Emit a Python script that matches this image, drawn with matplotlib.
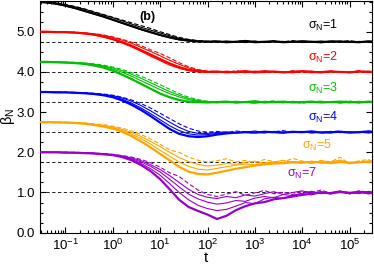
import numpy as np
import matplotlib
matplotlib.use("Agg")
import matplotlib.pyplot as plt
from matplotlib.ticker import MultipleLocator, FixedLocator, NullFormatter, LogFormatterMathtext

plt.rcParams['font.family'] = ['Liberation Sans', 'DejaVu Sans']
plt.rcParams['mathtext.fontset'] = 'custom'
plt.rcParams['mathtext.rm'] = 'Liberation Sans'
plt.rcParams['mathtext.it'] = 'Liberation Sans:italic'

# time grid: log10(t) from -1.6 to 5.6 in steps of 0.2
log_t = np.arange(-1.6, 5.61, 0.2)

sigma_labels = ["1", "2", "3", "4", "5", "7"]
colors = ["#000000", "#ff0000", "#00c000", "#0000ff", "#ffa500", "#9a00d0"]
plateaus = [4.75, 4.0, 3.25, 2.5, 1.75, 1.0]

# sigma_N = 1
beta_s1 = [
    [5.75, 5.73, 5.70, 5.65, 5.59, 5.52, 5.45, 5.38, 5.30, 5.22, 5.14, 5.06, 4.99, 4.92, 4.86, 4.81, 4.78, 4.76, 4.75,
     4.76, 4.74, 4.75, 4.77, 4.74, 4.75, 4.76, 4.74, 4.75, 4.76, 4.75, 4.74, 4.76, 4.75, 4.75, 4.74, 4.76, 4.75],
    [5.75, 5.74, 5.71, 5.67, 5.62, 5.56, 5.49, 5.42, 5.35, 5.27, 5.19, 5.11, 5.04, 4.97, 4.90, 4.84, 4.80, 4.77, 4.76,
     4.74, 4.77, 4.75, 4.73, 4.76, 4.75, 4.77, 4.74, 4.76, 4.73, 4.75, 4.77, 4.74, 4.76, 4.73, 4.76, 4.74, 4.75],
    [5.74, 5.72, 5.69, 5.64, 5.58, 5.51, 5.44, 5.37, 5.29, 5.21, 5.13, 5.05, 4.98, 4.91, 4.85, 4.80, 4.77, 4.75, 4.76,
     4.75, 4.76, 4.74, 4.75, 4.77, 4.73, 4.75, 4.76, 4.74, 4.77, 4.75, 4.73, 4.75, 4.77, 4.74, 4.75, 4.76, 4.74],
    [5.75, 5.74, 5.72, 5.68, 5.63, 5.57, 5.50, 5.43, 5.36, 5.29, 5.22, 5.15, 5.08, 5.00, 4.93, 4.86, 4.81, 4.78, 4.76,
     4.77, 4.74, 4.76, 4.78, 4.75, 4.73, 4.77, 4.75, 4.78, 4.74, 4.76, 4.73, 4.77, 4.75, 4.78, 4.74, 4.76, 4.75],
]

# sigma_N = 2
beta_s2 = [
    [5.00, 5.00, 4.99, 4.99, 4.98, 4.96, 4.93, 4.88, 4.82, 4.74, 4.65, 4.54, 4.43, 4.32, 4.21, 4.12, 4.05, 4.02, 4.00,
     4.01, 3.99, 4.00, 4.02, 3.99, 4.00, 4.01, 3.99, 4.00, 4.02, 4.00, 3.99, 4.01, 4.00, 3.99, 4.01, 4.00, 3.99],
    [5.00, 5.00, 5.00, 4.99, 4.98, 4.97, 4.95, 4.91, 4.86, 4.79, 4.71, 4.61, 4.51, 4.40, 4.29, 4.19, 4.10, 4.04, 4.01,
     3.99, 4.02, 4.00, 3.98, 4.01, 4.03, 4.00, 3.99, 4.02, 4.00, 3.98, 4.01, 4.02, 3.99, 4.00, 4.02, 3.99, 4.01],
    [5.00, 5.00, 4.99, 4.98, 4.97, 4.95, 4.92, 4.87, 4.80, 4.72, 4.62, 4.51, 4.39, 4.28, 4.17, 4.09, 4.03, 4.00, 3.99,
     4.00, 4.01, 3.98, 4.00, 4.02, 3.99, 4.01, 4.00, 3.98, 4.01, 4.02, 3.99, 4.00, 4.01, 3.98, 4.00, 4.02, 4.00],
    [5.00, 5.00, 5.00, 4.99, 4.99, 4.97, 4.95, 4.92, 4.87, 4.81, 4.74, 4.65, 4.55, 4.46, 4.35, 4.23, 4.13, 4.06, 4.02,
     4.01, 3.99, 4.03, 4.00, 3.98, 4.02, 4.01, 3.99, 4.03, 4.00, 4.01, 3.98, 4.02, 4.00, 3.99, 4.03, 4.00, 4.01],
]

# sigma_N = 3
beta_s3 = [
    [4.25, 4.25, 4.24, 4.23, 4.22, 4.20, 4.16, 4.11, 4.03, 3.93, 3.82, 3.70, 3.58, 3.46, 3.37, 3.30, 3.26, 3.25, 3.24,
     3.25, 3.26, 3.24, 3.25, 3.27, 3.24, 3.25, 3.26, 3.24, 3.25, 3.26, 3.24, 3.25, 3.26, 3.25, 3.24, 3.26, 3.25],
    [4.25, 4.25, 4.24, 4.24, 4.23, 4.21, 4.18, 4.14, 4.07, 3.99, 3.89, 3.78, 3.67, 3.56, 3.46, 3.38, 3.31, 3.27, 3.25,
     3.24, 3.26, 3.23, 3.25, 3.24, 3.27, 3.25, 3.23, 3.26, 3.24, 3.25, 3.27, 3.24, 3.25, 3.23, 3.26, 3.25, 3.24],
    [4.25, 4.25, 4.25, 4.24, 4.23, 4.22, 4.19, 4.15, 4.10, 4.03, 3.94, 3.84, 3.73, 3.62, 3.51, 3.42, 3.34, 3.29, 3.26,
     3.23, 3.25, 3.27, 3.24, 3.22, 3.25, 3.26, 3.24, 3.27, 3.23, 3.25, 3.24, 3.26, 3.22, 3.25, 3.27, 3.24, 3.23],
    [4.25, 4.25, 4.25, 4.24, 4.24, 4.22, 4.20, 4.17, 4.12, 4.06, 3.98, 3.89, 3.79, 3.68, 3.57, 3.46, 3.37, 3.31, 3.27,
     3.26, 3.24, 3.27, 3.25, 3.23, 3.26, 3.28, 3.24, 3.25, 3.22, 3.26, 3.27, 3.24, 3.25, 3.28, 3.23, 3.25, 3.26],
]

# sigma_N = 4
beta_s4 = [
    [3.50, 3.50, 3.49, 3.49, 3.48, 3.47, 3.45, 3.42, 3.37, 3.29, 3.18, 3.05, 2.90, 2.74, 2.58, 2.46, 2.40, 2.38, 2.40,
     2.44, 2.47, 2.49, 2.50, 2.49, 2.51, 2.50, 2.49, 2.51, 2.50, 2.52, 2.49, 2.50, 2.51, 2.49, 2.50, 2.52, 2.50],
    [3.50, 3.50, 3.49, 3.49, 3.48, 3.47, 3.45, 3.43, 3.39, 3.32, 3.22, 3.10, 2.96, 2.81, 2.66, 2.54, 2.46, 2.43, 2.44,
     2.47, 2.49, 2.48, 2.51, 2.50, 2.48, 2.52, 2.50, 2.49, 2.51, 2.48, 2.50, 2.52, 2.49, 2.51, 2.50, 2.48, 2.51],
    [3.50, 3.50, 3.50, 3.49, 3.49, 3.48, 3.46, 3.44, 3.41, 3.35, 3.27, 3.16, 3.03, 2.89, 2.75, 2.62, 2.52, 2.47, 2.47,
     2.49, 2.51, 2.48, 2.50, 2.53, 2.49, 2.50, 2.48, 2.51, 2.52, 2.49, 2.50, 2.48, 2.52, 2.50, 2.49, 2.51, 2.50],
    [3.50, 3.50, 3.50, 3.50, 3.49, 3.48, 3.47, 3.45, 3.42, 3.37, 3.30, 3.21, 3.10, 2.97, 2.84, 2.71, 2.60, 2.53, 2.50,
     2.52, 2.49, 2.53, 2.50, 2.48, 2.52, 2.51, 2.54, 2.49, 2.50, 2.52, 2.48, 2.51, 2.53, 2.49, 2.50, 2.52, 2.49],
]

# sigma_N = 5
beta_s5 = [
    [2.75, 2.75, 2.74, 2.74, 2.73, 2.71, 2.68, 2.64, 2.59, 2.51, 2.40, 2.27, 2.12, 1.96, 1.80, 1.64, 1.52, 1.46, 1.45,
     1.49, 1.54, 1.59, 1.63, 1.67, 1.70, 1.72, 1.73, 1.75, 1.74, 1.76, 1.75, 1.73, 1.76, 1.74, 1.75, 1.77, 1.74],
    [2.75, 2.75, 2.75, 2.74, 2.73, 2.72, 2.69, 2.66, 2.61, 2.54, 2.45, 2.34, 2.20, 2.05, 1.90, 1.76, 1.65, 1.58, 1.56,
     1.60, 1.64, 1.68, 1.71, 1.69, 1.73, 1.76, 1.72, 1.77, 1.74, 1.78, 1.73, 1.76, 1.79, 1.72, 1.75, 1.78, 1.73],
    [2.75, 2.75, 2.75, 2.74, 2.74, 2.72, 2.70, 2.67, 2.63, 2.57, 2.49, 2.39, 2.27, 2.14, 2.00, 1.87, 1.77, 1.70, 1.66,
     1.68, 1.72, 1.70, 1.75, 1.78, 1.73, 1.76, 1.80, 1.74, 1.77, 1.72, 1.79, 1.75, 1.81, 1.73, 1.77, 1.74, 1.76],
    [2.75, 2.75, 2.75, 2.75, 2.74, 2.73, 2.71, 2.69, 2.65, 2.60, 2.53, 2.44, 2.33, 2.20, 2.06, 2.00, 1.88, 1.80, 1.76,
     1.79, 1.84, 1.76, 1.80, 1.74, 1.82, 1.77, 1.75, 1.85, 1.78, 1.73, 1.80, 1.76, 1.88, 1.71, 1.79, 1.82, 1.70],
]

# sigma_N = 7
beta_s7 = [
    [2.00, 2.00, 2.00, 1.99, 1.99, 1.98, 1.97, 1.95, 1.93, 1.88, 1.80, 1.68, 1.53, 1.33, 1.08, 0.82, 0.64, 0.54, 0.45,
     0.34, 0.42, 0.56, 0.66, 0.73, 0.76, 0.83, 0.86, 0.90, 0.94, 0.97, 1.00, 0.98, 1.01, 0.99, 1.02, 0.98, 1.00],
    [2.00, 2.00, 2.00, 1.99, 1.99, 1.98, 1.97, 1.96, 1.93, 1.89, 1.82, 1.72, 1.59, 1.43, 1.22, 1.00, 0.82, 0.68, 0.60,
     0.55, 0.58, 0.66, 0.75, 0.72, 0.84, 0.88, 0.85, 0.93, 0.97, 0.94, 1.01, 0.98, 1.03, 0.97, 1.00, 1.02, 0.98],
    [2.00, 2.00, 2.00, 2.00, 1.99, 1.98, 1.97, 1.96, 1.94, 1.90, 1.84, 1.76, 1.65, 1.51, 1.33, 1.14, 0.96, 0.84, 0.76,
     0.71, 0.74, 0.80, 0.78, 0.86, 0.90, 0.87, 0.95, 0.92, 0.98, 1.03, 0.97, 1.00, 1.04, 0.98, 1.01, 0.97, 1.02],
    [2.00, 2.00, 2.00, 2.00, 1.99, 1.99, 1.98, 1.96, 1.94, 1.91, 1.86, 1.79, 1.69, 1.57, 1.42, 1.25, 1.08, 0.95, 0.88,
     0.85, 0.90, 0.87, 0.94, 0.91, 0.97, 1.02, 0.95, 1.00, 1.04, 0.98, 1.02, 0.96, 1.03, 1.00, 0.97, 1.03, 0.99],
    [2.00, 2.00, 2.00, 2.00, 2.00, 1.99, 1.98, 1.97, 1.95, 1.92, 1.88, 1.82, 1.74, 1.63, 1.49, 1.40, 1.22, 1.06, 0.95,
     0.90, 0.96, 1.02, 0.93, 0.99, 1.05, 0.97, 1.01, 0.95, 1.03, 1.00, 1.06, 0.98, 1.02, 0.96, 1.04, 1.01, 0.97],
]

groups = [beta_s1, beta_s2, beta_s3, beta_s4, beta_s5, beta_s7]
# label anchor: (right edge in axes fraction, vertical centre in data units)
label_pos = [(0.898, 5.15), (0.898, 4.36), (0.898, 3.58), (0.898, 2.86), (0.88, 2.17), (0.835, 1.47)]

t = 10 ** log_t

fig = plt.figure(figsize=(3.74, 2.65), dpi=100)
ax = fig.add_axes([0.107, 0.122, 0.888, 0.875])

for y in plateaus:
    ax.axhline(y, color='black', ls=(0, (4, 3)), lw=0.6, zorder=1)

for curves, col in zip(groups, colors):
    for i, vals in enumerate(curves):
        if i == 0:
            ax.plot(t, vals, color=col, lw=1.6, zorder=3)
        elif i == len(curves) - 1:
            ax.plot(t, vals, color=col, lw=0.8, ls=(0, (4, 2)), zorder=2)
        else:
            ax.plot(t, vals, color=col, lw=0.8, zorder=2)

for lab, col, (xp, yp) in zip(sigma_labels, colors, label_pos):
    ax.text(xp, yp, 'σ$_\\mathregular{N}$=' + lab, color=col, fontsize=9,
            transform=ax.get_yaxis_transform(), ha='right', va='center')

ax.text(0.324, 0.93, '(b)', transform=ax.transAxes, fontsize=9, fontweight='bold',
        ha='center', va='center')

ax.set_xscale('log')
ax.set_xlim(0.029, 3e5)
ax.set_ylim(0.0, 5.77)
ax.yaxis.set_major_locator(MultipleLocator(1.0))
ax.yaxis.set_minor_locator(MultipleLocator(0.25))
ax.yaxis.set_major_formatter(plt.FormatStrFormatter('%.1f'))
decades = 10.0 ** np.arange(-1, 6)
ax.xaxis.set_major_locator(FixedLocator(decades))
ax.xaxis.set_major_formatter(LogFormatterMathtext())
minor = [m * d for d in 10.0 ** np.arange(-2, 6) for m in range(2, 10) if 0.029 <= m * d <= 3e5]
ax.xaxis.set_minor_locator(FixedLocator(minor))
ax.xaxis.set_minor_formatter(NullFormatter())
ax.tick_params(which='both', direction='in', top=True, right=True, labelsize=9.5, width=0.8)
ax.tick_params(which='major', length=4)
ax.tick_params(which='minor', length=2)
ax.set_xlabel('t', fontsize=11, labelpad=-1)
ax.set_ylabel('β$_\\mathregular{N}$', fontsize=10.5, labelpad=0)

fig.savefig('out.png', dpi=100)
